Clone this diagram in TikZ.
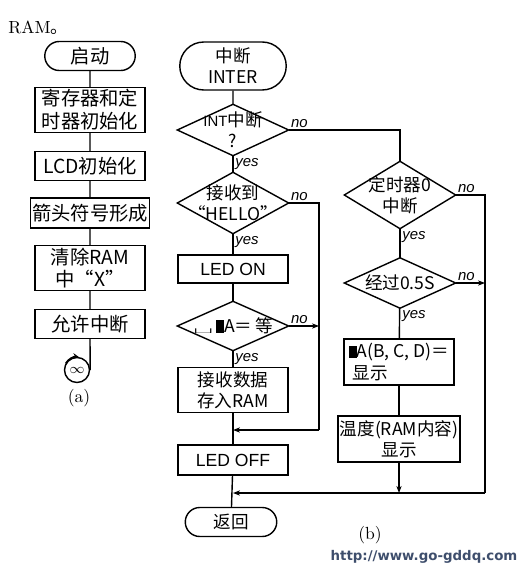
\documentclass[tikz,border=0pt]{standalone}
\usepackage{fontspec}
\newfontfamily\cjk{Noto Sans CJK SC}
\newfontfamily\lsans{Liberation Sans}
\newfontfamily\dejavu{DejaVu Sans}
\usetikzlibrary{shapes.misc,arrows.meta,positioning,calc}
\definecolor{urlblue}{RGB}{62,78,108}
\newcommand{\blk}{\rule{4.5pt}{7pt}}
\newcommand{\gapmark}{\raisebox{-0.5pt}{\scalebox{1.7}[0.45]{$\sqcup$}}}

\begin{document}
\begin{tikzpicture}[
                    x=0.02cm, y=-0.02cm,
                    line width=0.8pt,
                    every node/.style={font=\cjk\fontsize{10}{12}\selectfont, inner sep=1pt},
                    stepbox/.style={draw, rectangle, minimum width=2.2cm, minimum height=0.58cm, align=center},
                    termbox/.style={draw, rounded rectangle, minimum width=1.9cm, minimum height=0.58cm, align=center},
                    decbox/.style={minimum width=2.2cm, align=center, inner sep=0pt},
                    yn/.style={font=\lsans\itshape\fontsize{8.5}{10}\selectfont},
                    jump/.style={-{Stealth[length=4pt,width=3pt]}}
                ]
    \useasboundingbox (0,0) rectangle (518,571);

    % (a) main program
    \node[anchor=west, font=\fontsize{10}{12}\selectfont] (ramlbl) at (6,28) {RAM{\cjk 。}};
    \node[termbox, minimum width=1.88cm, font=\cjk\fontsize{11}{13}\selectfont] (start) at (90,56) {启动};
    \node[stepbox, minimum height=0.9cm, font=\cjk\fontsize{11}{13}\selectfont] (init) at (90,110) {寄存器和定\\时器初始化};
    \node[stepbox, font=\cjk\fontsize{11}{13}\selectfont] (lcd) at (90,166) {LCD初始化};
    \node[stepbox, minimum height=0.6cm, font=\cjk\fontsize{11}{13}\selectfont] (mark) at (90,213) {箭头符号形成};
    \node[stepbox, minimum height=0.9cm, font=\cjk\fontsize{11}{13}\selectfont] (clr) at (90,268) {清除RAM\\中“X”};
    \node[stepbox, font=\cjk\fontsize{11}{13}\selectfont] (ena) at (90,324) {允许中断};
    \node[draw, circle, minimum size=0.5cm, inner sep=0pt, font=\fontsize{8}{9}\selectfont] (inf) at (77,370) {$\infty$};
    \node[font=\fontsize{10}{12}\selectfont] (capa) at (79,398) {(a)};

    \draw (start) -- (init) -- (lcd) -- (mark) -- (clr) -- (ena);
    \draw (ena.south) -- (inf.east);
    \draw[jump] (inf.150) arc (150:75:0.25cm);

    % (b) interrupt routine
    \node[termbox, minimum width=2.2cm, minimum height=0.96cm] (inter) at (233,66) {中断\\INTER};
    \node[decbox, minimum height=1.0cm] (q1) at (233,130) {{\lsans\fontsize{8.5}{10}\selectfont INT}中断\\?};
    \node[decbox, minimum height=1.2cm] (q2) at (233,203) {接收到\\“HELLO”};
    \node[stepbox, minimum height=0.56cm] (ledon) at (233,269) {\lsans LED ON};
    \node[decbox, minimum height=0.96cm] (q3) at (233,326) {\gapmark\,\blk A＝\,等};
    \node[stepbox, minimum height=0.9cm] (recv) at (233,390) {接收数据\\存入RAM};
    \node[stepbox, minimum height=0.6cm] (ledoff) at (233,460) {\lsans LED OFF};
    \node[termbox] (ret) at (231,522) {返回};

    \node[decbox, minimum height=1.32cm] (q4) at (400,195) {定时器0\\中断};
    \node[decbox, minimum height=0.98cm] (q5) at (400,283) {经过0.5S};
    \node[stepbox, minimum height=0.92cm, align=left] (showa) at (399,362) {\blk A(B, C, D)＝\\\ 显示};
    \node[stepbox, minimum height=0.92cm] (temp) at (399,439) {温度(RAM内容)\\显示};

    \node[font=\fontsize{10}{12}\selectfont] (capb) at (370,535) {(b)};
    \node[font=\dejavu\bfseries\fontsize{7.6}{9}\selectfont, text=urlblue] (url) at (424,557) {http://www.go-gddq.com};

    \coordinate (m1) at (319,430);
    \coordinate (m2) at (485,493);

    % diamonds
    \foreach \n in {q1,q2,q3,q4,q5}
        \draw (\n.north) -- (\n.east) -- (\n.south) -- (\n.west) -- cycle;

    % main branch
    \draw (inter) -- (q1);
    \draw (q1) -- (q2);
    \draw (q2) -- (ledon);
    \draw (ledon) -- (q3);
    \draw (q3) -- (recv);
    \draw (recv) -- (ledoff);
    \draw (ledoff) -- (ret);
    \draw (q1.east) -| (q4.north);
    \draw (q2.east) -| (m1);
    \draw[jump] (m1) -- (recv.south |- m1);
    \draw[jump] (q3.east) -- (q3.east -| m1);

    % timer branch
    \draw (q4) -- (q5);
    \draw (q5) -- (showa);
    \draw (showa) -- (temp);
    \draw[jump] (temp.south) -- (temp.south |- m2);
    \draw (q4.east) -| (m2);
    \draw[jump] (m2) -- (ledoff.south |- m2);
    \draw[jump] (q5.east) -- (q5.east -| m2);

    % yes / no labels
    \foreach \n in {q1,q2,q3,q4,q5} {
        \node[yn, anchor=south west] at (\n.east) {no};
        \node[yn, anchor=north west] at (\n.south) {yes};
    }
\end{tikzpicture}
\end{document}
